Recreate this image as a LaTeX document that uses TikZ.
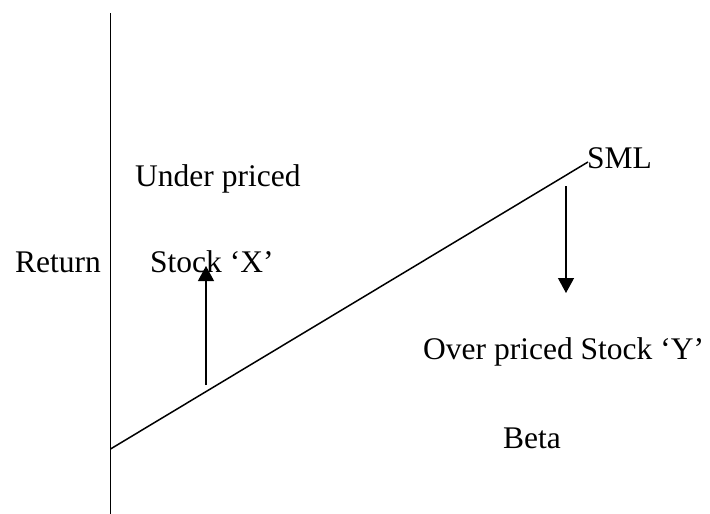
\documentclass[tikz,border=0pt]{standalone}
\usepackage{fontspec}
\setmainfont{Liberation Serif}
\usetikzlibrary{arrows.meta}
\begin{document}
\begin{tikzpicture}[x=1pt,y=-1pt,
  lbl/.style={anchor=base west,inner sep=0pt,font=\fontsize{31.5}{36}\selectfont},
  axisline/.style={line width=1.5pt,black},
  movearrow/.style={line width=1.2pt,-{Triangle[width=16pt,length=15pt]}}]
  \useasboundingbox (0,0) rectangle (710,514);
  % axis and security market line
  \coordinate (ytop) at (110.5,13);
  \coordinate (ybot) at (110.5,514);
  \coordinate (smlA) at (110.5,449);
  \coordinate (smlB) at (588,162);
  \draw[axisline] (ytop) -- (ybot);
  \draw[axisline] (smlA) -- (smlB);
  % labels
  \node[lbl] (under) at (135,186) {Under priced};
  \node[lbl] (ret) at (15,272) {Return};
  \node[lbl] (stx) at (150,272) {Stock ‘X’};
  \node[lbl] (sml) at (587,168) {SML};
  \node[lbl] (over) at (423,359) {Over priced Stock ‘Y’};
  \node[lbl] (beta) at (503,448) {Beta};
  % price adjustment arrows
  \coordinate (upA) at (206,385);
  \coordinate (upB) at (206,266);
  \coordinate (dnA) at (566,186);
  \coordinate (dnB) at (566,293);
  \draw[movearrow] (upA) -- (upB);
  \draw[movearrow] (dnA) -- (dnB);
\end{tikzpicture}
\end{document}
